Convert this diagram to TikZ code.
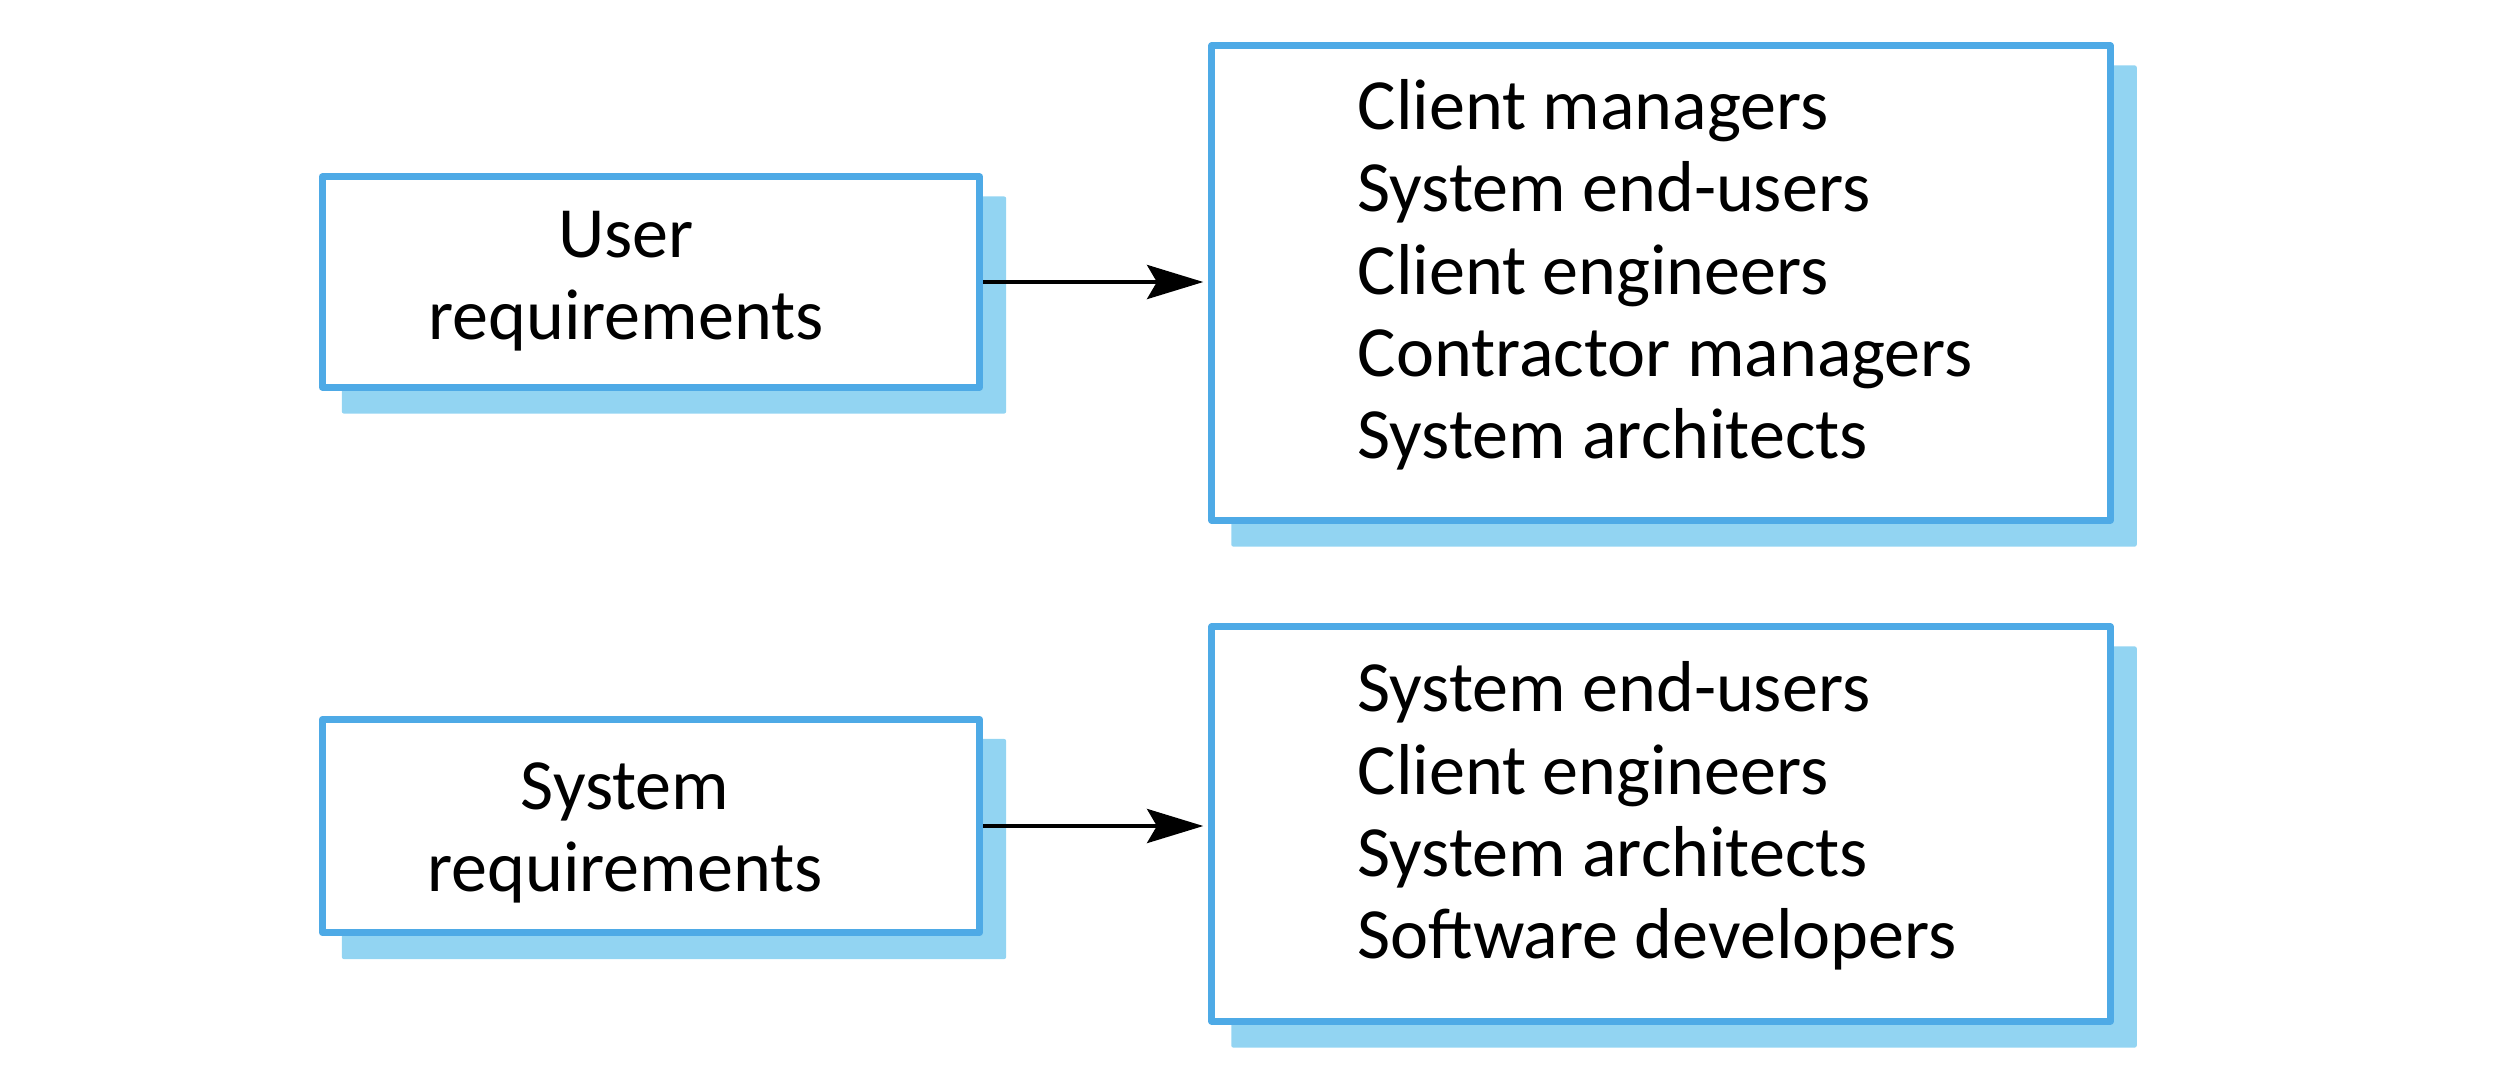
\documentclass[tikz,border=0pt]{standalone}
\usepackage{fontspec}
\setmainfont{Carlito}
\usetikzlibrary{arrows.meta,backgrounds}
\definecolor{boxblue}{RGB}{78,170,230}
\definecolor{shadeblue}{RGB}{146,212,242}
\tikzset{
  reqbox/.style={draw=boxblue, fill=white, line width=2pt, line join=round, rectangle, outer sep=0pt, inner sep=0pt},
  txt/.style={font=\fontsize{20.5pt}{23.4pt}\selectfont, inner sep=0pt, text=black},
  arr/.style={-{Stealth[length=16pt,width=9.7pt,inset=2.8pt]}, line width=1.1pt, shorten >=2.4pt},
  shadowfill/.style={fill=shadeblue, rounded corners=0.6pt},
}
\newcommand{\mkshadow}[1]{%
  \fill[shadowfill] ([shift={(19.5,19.5)}]#1.north west) rectangle ([shift={(26.5,26.5)}]#1.south east);}
\begin{document}
\begin{tikzpicture}[x=0.01cm, y=-0.01cm]
\useasboundingbox (0,0) rectangle (2508,1078);
% boxes (positions in reference pixels)
\node[reqbox, minimum width=6.57cm, minimum height=2.10cm] (ur) at (651,282) {};
\node[reqbox, minimum width=8.98cm, minimum height=4.74cm] (us) at (1661,283) {};
\node[reqbox, minimum width=6.57cm, minimum height=2.13cm] (sr) at (651,826) {};
\node[reqbox, minimum width=8.98cm, minimum height=3.94cm] (ss) at (1661,824) {};
\begin{scope}[on background layer]
\mkshadow{ur}\mkshadow{us}\mkshadow{sr}\mkshadow{ss}
\end{scope}
% texts
\node[txt, align=center] (urt) at (626,281) {User\\requirements};
\node[txt, align=center] (srt) at (625,833) {System\\requirements};
\node[txt, align=left, anchor=west] (ust) at (1357,275) {Client managers\\System end-users\\Client engineers\\Contractor managers\\System architects};
\node[txt, align=left, anchor=west] (sst) at (1357,816) {System end-users\\Client engineers\\System architects\\Software developers};
% connectors
\draw[arr] ([xshift=1pt]ur.east) -- (ur.east -| us.west);
\draw[arr] ([xshift=1pt]sr.east) -- (sr.east -| ss.west);
\end{tikzpicture}
\end{document}
